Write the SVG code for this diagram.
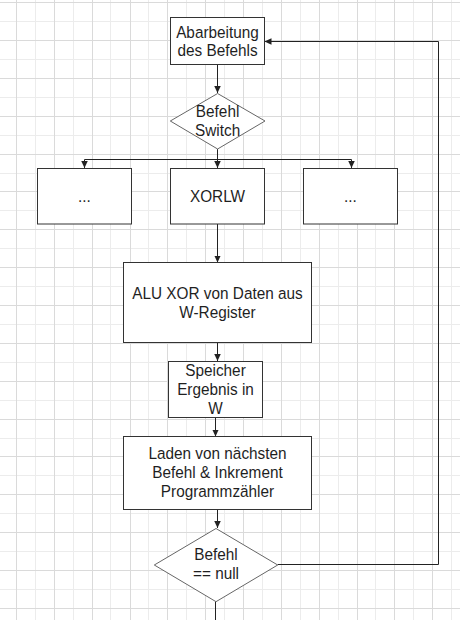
<svg xmlns="http://www.w3.org/2000/svg" width="460" height="620" viewBox="0 0 460 620">
<style>
.gd{stroke:#dadada;stroke-width:1;fill:none}
.gl{stroke:#ececec;stroke-width:1;fill:none}
.box{fill:#ffffff;stroke:#333333;stroke-width:1}
.dia{fill:#ffffff;stroke:#666666;stroke-width:1}
.con{fill:none;stroke:#222222;stroke-width:1}
text{font-family:"Liberation Sans",Arial,Helvetica,sans-serif;font-size:16.5px;fill:#1f1f1f;text-anchor:middle}
</style>
<defs>
<marker id="ah" markerUnits="userSpaceOnUse" markerWidth="8" markerHeight="8" refX="7" refY="3.25" orient="auto">
<path d="M0,0 L7,3.25 L0,6.5 z" fill="#222222"/>
</marker>
</defs>
<rect width="460" height="620" fill="#ffffff"/>
<g id="grid">
<path class="gl" d="M35.5,0V620M73.5,0V620M110.5,0V620M148.5,0V620M186.5,0V620M224.5,0V620M262.5,0V620M300.5,0V620M338.5,0V620M375.5,0V620M413.5,0V620M451.5,0V620M0,21.5H460M0,59.5H460M0,97.5H460M0,135.5H460M0,173.5H460M0,210.5H460M0,248.5H460M0,286.5H460M0,324.5H460M0,362.5H460M0,400.5H460M0,438.5H460M0,475.5H460M0,513.5H460M0,551.5H460M0,589.5H460"/>
<path class="gd" d="M16.5,0V620M54.5,0V620M92.5,0V620M130.5,0V620M167.5,0V620M205.5,0V620M243.5,0V620M281.5,0V620M319.5,0V620M357.5,0V620M394.5,0V620M432.5,0V620M0,2.5H460M0,40.5H460M0,78.5H460M0,116.5H460M0,154.5H460M0,191.5H460M0,229.5H460M0,267.5H460M0,305.5H460M0,343.5H460M0,381.5H460M0,419.5H460M0,456.5H460M0,494.5H460M0,532.5H460M0,570.5H460M0,608.5H460"/>
</g>
<g id="connectors">
<path class="con" d="M217.5,64.5V93" marker-end="url(#ah)"/>
<path class="con" d="M217.5,149V159.5"/>
<path class="con" d="M84.5,159.5H351.5"/>
<path class="con" d="M84.5,159.5V168" marker-end="url(#ah)"/>
<path class="con" d="M217.5,159.5V168" marker-end="url(#ah)"/>
<path class="con" d="M351.5,159.5V168" marker-end="url(#ah)"/>
<path class="con" d="M217.5,224V262.5" marker-end="url(#ah)"/>
<path class="con" d="M217.5,342.5V361" marker-end="url(#ah)"/>
<path class="con" d="M215.5,417.5V436.5" marker-end="url(#ah)"/>
<path class="con" d="M217.5,509.5V528" marker-end="url(#ah)"/>
<path class="con" d="M215.5,601.7V620"/>
<path class="con" d="M277.7,564.5H438.5V41.5H264.5" marker-end="url(#ah)"/>
</g>
<g id="n-abarbeitung">
<rect class="box" x="170.5" y="17.5" width="94" height="47"/>
<g transform="matrix(0.93 0 0 1 15.225 0)">
<text x="217.5" y="38">Abarbeitung</text>
<text x="217.5" y="56.2">des Befehls</text>
</g>
</g>
<g id="n-switch">
<polygon class="dia" points="217.6,93.5 265,121 217.6,149 170.3,121"/>
<g transform="matrix(0.93 0 0 1 15.232 0)">
<text x="217.6" y="117">Befehl</text>
<text x="217.6" y="135.6">Switch</text>
</g>
</g>
<g id="n-left">
<rect class="box" x="37.5" y="168.5" width="94" height="55.5"/>
<g transform="matrix(0.93 0 0 1 5.915 0)">
<text x="84.5" y="202.2">...</text>
</g>
</g>
<g id="n-xorlw">
<rect class="box" x="170.5" y="168.5" width="94" height="55.5"/>
<g transform="matrix(0.93 0 0 1 15.225 0)">
<text x="217.5" y="202.4">XORLW</text>
</g>
</g>
<g id="n-right">
<rect class="box" x="303.5" y="168.5" width="94" height="55.5"/>
<g transform="matrix(0.93 0 0 1 24.535 0)">
<text x="350.5" y="202.2">...</text>
</g>
</g>
<g id="n-alu">
<rect class="box" x="123.5" y="262.5" width="188" height="80"/>
<g transform="matrix(0.93 0 0 1 15.225 0)">
<text x="217.5" y="299.2">ALU XOR von Daten aus</text>
<text x="217.5" y="317.6">W-Register</text>
</g>
</g>
<g id="n-speicher">
<rect class="box" x="168.5" y="361.5" width="94" height="56"/>
<g transform="matrix(0.93 0 0 1 15.085 0)">
<text x="215.5" y="376.2">Speicher</text>
<text x="215.5" y="394.9">Ergebnis in</text>
<text x="215.5" y="413.6">W</text>
</g>
</g>
<g id="n-laden">
<rect class="box" x="123.5" y="436.5" width="188" height="73"/>
<g transform="matrix(0.93 0 0 1 15.225 0)">
<text x="217.5" y="459.2">Laden von nächsten</text>
<text x="217.5" y="477.9">Befehl &amp; Inkrement</text>
<text x="217.5" y="496.6">Programmzähler</text>
</g>
</g>
<g id="n-null">
<polygon class="dia" points="216,528.5 277.7,565 216,601.7 154.3,565"/>
<g transform="matrix(0.93 0 0 1 15.12 0)">
<text x="216" y="560.2">Befehl</text>
<text x="216" y="579.3">== null</text>
</g>
</g>
</svg>
